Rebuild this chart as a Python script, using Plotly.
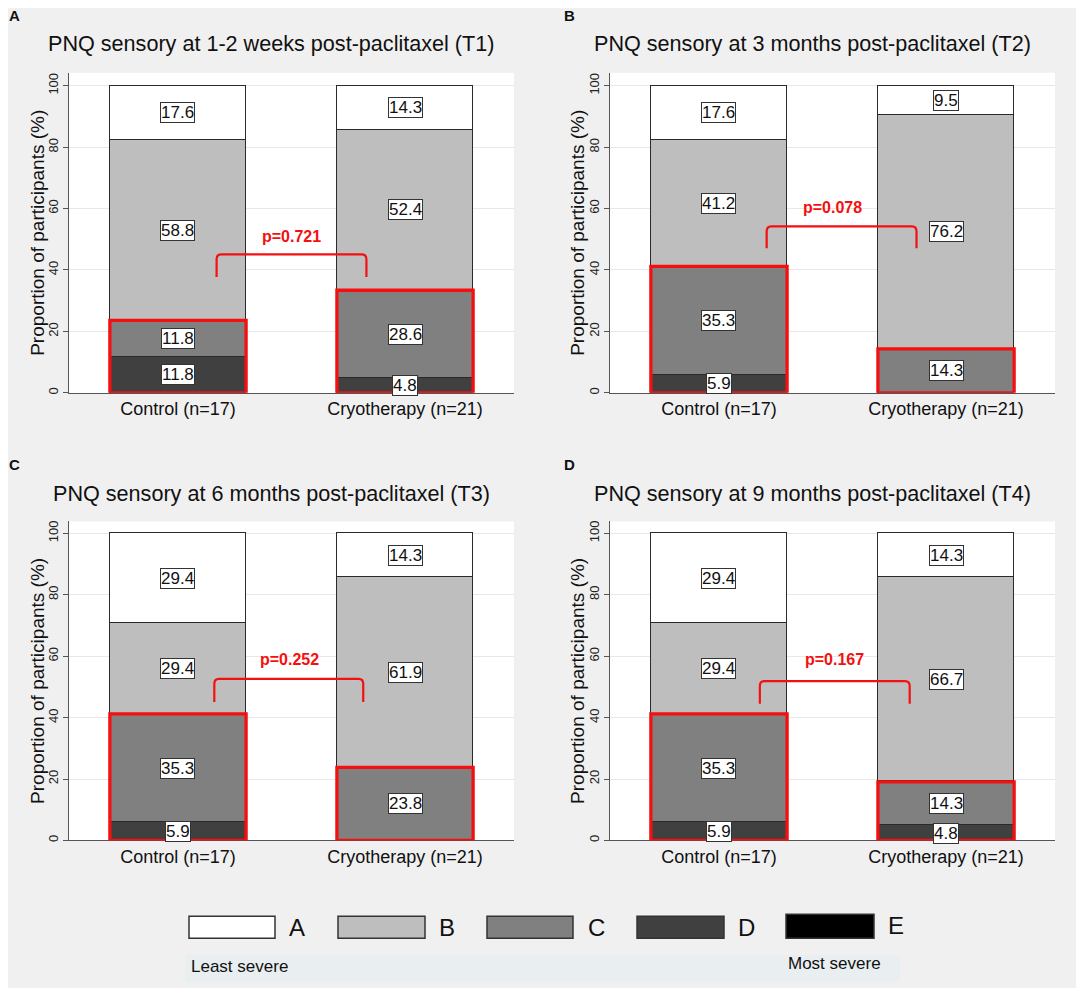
import plotly.graph_objects as go

# page body has an 8px margin; build the figure so content lands on window pixels
OFF = 8
W, H = 1084 - OFF, 988 - OFF

# ---------------- data ----------------
groups = ["Control (n=17)", "Cryotherapy (n=21)"]
severity = ["A", "B", "C", "D", "E"]
severity_colors = ["#ffffff", "#bebebe", "#808080", "#404040", "#000000"]
panel_letters = ["A", "B", "C", "D"]
panel_titles = [
    "PNQ sensory at 1-2 weeks post-paclitaxel (T1)",
    "PNQ sensory at 3 months post-paclitaxel (T2)",
    "PNQ sensory at 6 months post-paclitaxel (T3)",
    "PNQ sensory at 9 months post-paclitaxel (T4)",
]
y_title = "Proportion of participants (%)"
y_ticks = [0, 20, 40, 60, 80, 100]

# percentages [Control, Cryotherapy] for each severity level
t1_A = [17.6, 14.3]
t1_B = [58.8, 52.4]
t1_C = [11.8, 28.6]
t1_D = [11.8, 4.8]
t1_E = [0.0, 0.0]

t2_A = [17.6, 9.5]
t2_B = [41.2, 76.2]
t2_C = [35.3, 14.3]
t2_D = [5.9, 0.0]
t2_E = [0.0, 0.0]

t3_A = [29.4, 14.3]
t3_B = [29.4, 61.9]
t3_C = [35.3, 23.8]
t3_D = [5.9, 0.0]
t3_E = [0.0, 0.0]

t4_A = [29.4, 14.3]
t4_B = [29.4, 66.7]
t4_C = [35.3, 14.3]
t4_D = [5.9, 4.8]
t4_E = [0.0, 0.0]

p_values = ["p=0.721", "p=0.078", "p=0.252", "p=0.167"]

panels = [
    [t1_A, t1_B, t1_C, t1_D, t1_E],
    [t2_A, t2_B, t2_C, t2_D, t2_E],
    [t3_A, t3_B, t3_C, t3_D, t3_E],
    [t4_A, t4_B, t4_C, t4_D, t4_E],
]

# ---------------- layout geometry (window pixels) ----------------
# plot areas: (left, right, top, bottom)
areas = [(69, 514, 72, 393), (610, 1055, 72, 393),
         (69, 514, 522, 842), (610, 1055, 522, 842)]
title_pos = [(271, 43), (812, 43), (271, 494), (812, 494)]
letter_pos = [(14, 15), (569, 15), (14, 465), (569, 465)]
ytitle_x = [38, 578, 38, 578]
# bracket: x_left, x_right, y_top, y_bottom, text_y, text_x
brackets = [(0.17, 0.83, 45.1, 37.7, 51.0, 0.50),
            (0.21, 0.87, 54.2, 47.1, 60.4, 0.50),
            (0.16, 0.816, 52.6, 45.1, 59.0, 0.49),
            (0.18, 0.84, 51.9, 44.5, 59.0, 0.51)]

RED = "#f41010"
FONT = "Liberation Sans, Arial, sans-serif"

def px(x):
    return (x - OFF) / W

def py(y):
    return 1 - (y - OFF) / H

fig = go.Figure()
annotations = []
shapes = []
xpos = list(range(len(groups)))
BAR_W = 0.6

for k, levels in enumerate(panels):
    sfx = "" if k == 0 else str(k + 1)
    xa, ya = "x" + sfx, "y" + sfx
    # stack from most severe (bottom) to least severe (top)
    order = list(range(len(severity)))[::-1]
    for li in order:
        vals = levels[li]
        fig.add_trace(go.Bar(
            x=xpos, y=[v if v > 0 else None for v in vals],
            width=BAR_W, marker=dict(color=severity_colors[li],
                                     line=dict(color="#2a2a2a", width=1.2)),
            xaxis=xa, yaxis=ya, showlegend=False, hoverinfo="skip"))
    # value labels
    for gi in xpos:
        base = 0.0
        for li in order:
            v = levels[li][gi]
            if v > 0:
                annotations.append(dict(
                    x=gi, y=base + v / 2, xref=xa, yref=ya, text=f"{v:.1f}",
                    showarrow=False, font=dict(size=17, color="#111", family=FONT),
                    bgcolor="#ffffff", bordercolor="#333", borderwidth=1, borderpad=0))
            base += v
        # red box around C + D + E
        sev_sum = levels[2][gi] + levels[3][gi] + levels[4][gi]
        shapes.append(dict(type="rect", xref=xa, yref=ya,
                           x0=gi - BAR_W / 2, x1=gi + BAR_W / 2, y0=0, y1=sev_sum,
                           line=dict(color=RED, width=3.3), layer="above"))
    # p-value bracket
    xl, xr, yt, yb, ty, tx = brackets[k]
    r_y, r_x = 1.6, 0.02
    path = (f"M {xl},{yb} L {xl},{yt - r_y} Q {xl},{yt} {xl + r_x},{yt} "
            f"L {xr - r_x},{yt} Q {xr},{yt} {xr},{yt - r_y} L {xr},{yb}")
    shapes.append(dict(type="path", path=path, xref=xa, yref=ya,
                       line=dict(color=RED, width=2.2), layer="above"))
    annotations.append(dict(x=tx, y=ty, xref=xa, yref=ya, text=f"<b>{p_values[k]}</b>",
                            showarrow=False, font=dict(size=16, color=RED, family=FONT)))

    l, r, t, b = areas[k]
    fig.update_layout(**{
        "xaxis" + sfx: dict(domain=[px(l), px(r)], range=[-0.48, 1.48],
                            tickvals=xpos, ticktext=groups, showgrid=False, zeroline=False,
                            showline=True, linecolor="#555", linewidth=1, ticks="",
                            tickfont=dict(size=18, color="#111", family=FONT),
                            anchor=ya, fixedrange=True),
        "yaxis" + sfx: dict(domain=[py(b), py(t)], range=[0, 104.2 if k < 2 else 103.9],
                            tickvals=y_ticks, tickangle=-90, showgrid=True,
                            gridcolor="#e8e8e8", gridwidth=1, zeroline=False,
                            showline=True, linecolor="#555", linewidth=1,
                            ticks="outside", ticklen=5, tickcolor="#555",
                            tickfont=dict(size=13, color="#222", family=FONT),
                            anchor=xa, fixedrange=True),
    })
    # titles and labels
    tx_, ty_ = title_pos[k]
    annotations.append(dict(x=px(tx_), y=py(ty_), xref="paper", yref="paper",
                            text=panel_titles[k], showarrow=False,
                            font=dict(size=21.6, color="#111", family=FONT),
                            xanchor="center", yanchor="middle"))
    lx, ly = letter_pos[k]
    annotations.append(dict(x=px(lx), y=py(ly), xref="paper", yref="paper",
                            text=f"<b>{panel_letters[k]}</b>", showarrow=False,
                            font=dict(size=15, color="#111", family=FONT),
                            xanchor="center", yanchor="middle"))
    annotations.append(dict(x=px(ytitle_x[k]), y=py((t + b) / 2), xref="paper", yref="paper",
                            text=y_title, textangle=-90, showarrow=False,
                            font=dict(size=19, color="#111", family=FONT),
                            xanchor="center", yanchor="middle"))

# ---------------- severity legend ----------------
shapes.append(dict(type="rect", xref="paper", yref="paper",
                   x0=px(185), x1=px(900), y0=py(984), y1=py(957),
                   fillcolor="#e9eef0", line=dict(width=0), layer="below"))
legend_boxes = [(189, 275), (338, 425), (487, 573), (637, 724), (786, 874)]
legend_label_x = [297, 447, 596, 746, 896]
for i, name in enumerate(severity):
    x0, x1 = legend_boxes[i]
    top = 916 if i == 4 else 918
    shapes.append(dict(type="rect", xref="paper", yref="paper",
                       x0=px(x0), x1=px(x1), y0=py(940), y1=py(top),
                       fillcolor=severity_colors[i], line=dict(color="#333", width=1.5)))
    annotations.append(dict(x=px(legend_label_x[i]), y=py(927 if i == 4 else 929),
                            xref="paper", yref="paper", text=name, showarrow=False,
                            font=dict(size=24, color="#111", family=FONT),
                            xanchor="center", yanchor="middle"))
annotations.append(dict(x=px(189), y=py(968), xref="paper", yref="paper",
                        text="Least severe", showarrow=False, xanchor="left", yanchor="middle",
                        font=dict(size=17, color="#111", family=FONT)))
annotations.append(dict(x=px(786), y=py(965), xref="paper", yref="paper",
                        text="Most severe", showarrow=False, xanchor="left", yanchor="middle",
                        font=dict(size=17, color="#111", family=FONT)))

fig.update_layout(
    width=W, height=H, margin=dict(l=0, r=0, t=0, b=0),
    paper_bgcolor="#f0f0f0", plot_bgcolor="#ffffff",
    barmode="stack", bargap=0, showlegend=False,
    annotations=annotations, shapes=shapes,
    font=dict(family=FONT),
)

fig.write_html("out.html")
